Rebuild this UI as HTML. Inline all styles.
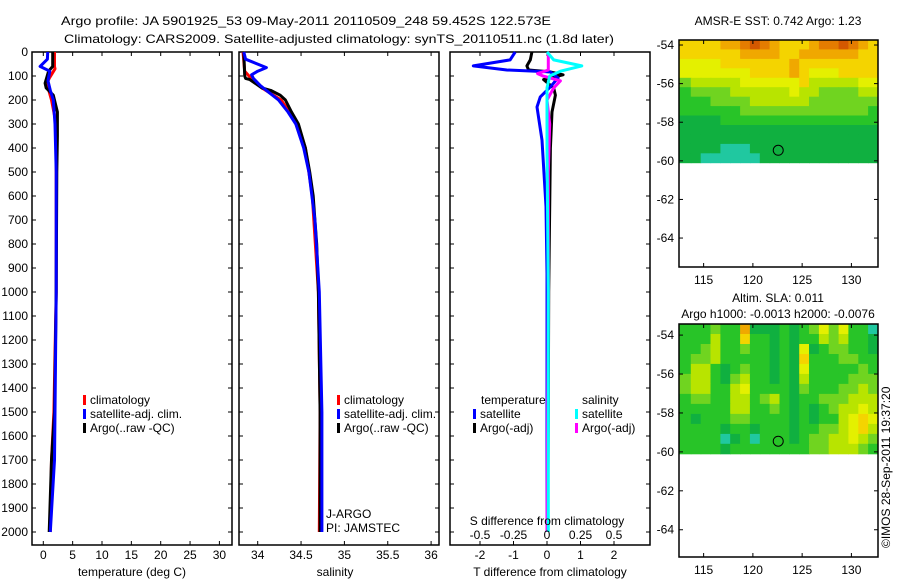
<!DOCTYPE html>
<html><head><meta charset="utf-8">
<style>
html,body{margin:0;padding:0;background:#fff;}
svg{display:block;font-family:"Liberation Sans",sans-serif;}
text{font-size:12px;fill:#000;}
</style></head>
<body>
<svg id="fig" width="900" height="580" viewBox="0 0 900 580" xmlns="http://www.w3.org/2000/svg">
<text x="61" y="25" textLength="490" lengthAdjust="spacingAndGlyphs">Argo profile: JA 5901925_53 09-May-2011 20110509_248 59.452S 122.573E</text>
<text x="64" y="43" textLength="550" lengthAdjust="spacingAndGlyphs">Climatology: CARS2009. Satellite-adjusted climatology: synTS_20110511.nc (1.8d later)</text>
<text x="778" y="25" text-anchor="middle">AMSR-E SST: 0.742 Argo: 1.23</text>
<text x="778" y="302" text-anchor="middle">Altim. SLA: 0.011</text>
<text x="778" y="318" text-anchor="middle">Argo h1000: -0.0013 h2000: -0.0076</text>
<text transform="translate(890,548) rotate(-90)">©IMOS 28-Sep-2011 19:37:20</text>
</svg>
<script>
// ---- data ----
const depthTicks=[0,100,200,300,400,500,600,700,800,900,1000,1100,1200,1300,1400,1500,1600,1700,1800,1900,2000];
const tempTicks=[0,5,10,15,20,25,30];
const salTicks=[34,34.5,35,35.5,36];
const tdiffTicks=[-2,-1,0,1,2];
const sdiffTicks=[-0.5,-0.25,0,0.25,0.5];
const tdiffTickLabels=["-2","-1","0","1","2"];
const sdiffTickLabels=["-0.5","-0.25","0","0.25","0.5"];

const tClimDepth=[0,60,70,110,130,200,300,500,1000,1500,1650,1700,2000];
const tClimVal=[1.9,1.9,2.0,1.0,0.6,1.4,2.2,2.2,2.2,1.8,1.5,1.4,1.2];
const tSatDepth=[0,30,60,80,120,160,200,300,500,800,1000,1500,1700,2000];
const tSatVal=[0.75,0.7,-0.55,1.1,0.8,1.2,1.7,2.0,2.2,2.2,2.2,2.0,1.9,1.2];
const tArgoDepth=[0,60,80,130,150,180,250,350,500,1000,1500,1700,2000];
const tArgoVal=[1.6,1.6,0.9,0.3,0.5,1.7,2.4,2.4,2.3,2.2,1.9,1.4,1.0];

const sClimDepth=[0,80,100,150,200,300,400,600,1000,1500,2000];
const sClimVal=[33.83,33.85,33.9,34.05,34.27,34.46,34.55,34.63,34.70,34.72,34.71];
const sSatDepth=[0,30,65,80,95,110,140,160,200,250,300,400,500,700,1000,1500,2000];
const sSatVal=[33.84,33.86,34.1,34.0,33.93,33.95,34.03,34.1,34.24,34.35,34.44,34.53,34.59,34.66,34.71,34.74,34.74];
const sArgoDepth=[0,100,110,115,150,160,180,200,250,300,400,500,600,700,800,1000,1500,2000];
const sArgoVal=[33.84,33.85,33.86,33.91,34.05,34.15,34.26,34.32,34.39,34.47,34.55,34.6,34.64,34.66,34.68,34.7,34.72,34.72];

const dTSatDepth=[0,33,58,75,83,108,145,187,229,367,645,922,1500,2000];
const dTSatVal=[-0.95,-1.1,-2.2,-1.2,0.1,0.33,0.1,-0.2,-0.3,-0.15,-0.03,0,0,0];
const dTArgoDepth=[0,33,58,75,83,95,115,150,180,250,400,1000,1500,2000];
const dTArgoVal=[-0.45,-0.5,-0.6,-0.55,0.1,0.48,-0.1,0.2,0.25,0.15,0.1,0.05,0.04,0.02];
const dSSatDepth=[0,33,58,80,100,150,200,400,1000,2000];
const dSSatVal=[0,0.05,0.26,0.1,0.02,0,0,0,0.01,0.01];
const dSArgoDepth=[0,60,75,90,100,120,150,200,300,500,1000,2000];
const dSArgoVal=[0.01,0.01,0.01,-0.07,-0.03,0.1,0.05,0,0.02,0.01,0.01,0];

const mapLonTicks=[115,120,125,130];
const mapLatTicks=[-54,-56,-58,-60,-62,-64];
const argoLon=122.573, argoLat=-59.452;
const sstRows=["66667789876667889876","66666677776677777766","55556666666766666666","55555556666765556666","34444455555564444455","23333444444544333344","22233334444443333333","22222233333333333332","11112222222222222222","11111111111111111111","11111111111111111111","11110001111111111111","11000000111111111111"];
const slaRows=["22232271112123535220","22242262212122434221","22342232212151233221","23342222212162223322","24421232212152222232","34421342212142222333","34422452222132223343","23322442342122333444","22222442232121234454","21222332222121224565","22221221222122334564","22220120222123344543","22221222222223344432"];
const palette=["#20c8a0","#10b040","#28c428","#70d420","#b8e400","#e4f000","#f4d400","#f0a800","#e47c00","#d45800"];

// ---- helpers ----
const NS="http://www.w3.org/2000/svg";
const svg=document.getElementById('fig');
function mk(tag,attrs,parent){const e=document.createElementNS(NS,tag);for(const k in attrs)e.setAttribute(k,attrs[k]);(parent||svg).appendChild(e);return e;}
const Y0=52,Y1=545;
const yD=d=>Y0+d*0.24;

function panel(name,x0,x1,xs,ticks,labels,showDepth){
  const g=mk('g',{});
  
  
  const r=mk('rect',{x:x0,y:Y0,width:x1-x0,height:Y1-Y0,fill:'none',stroke:'#000','stroke-width':1.5},g);
  
  
  ticks.forEach((t,i)=>{
    const x=xs(t);
    mk('line',{x1:x,x2:x,y1:Y0,y2:Y0+4,stroke:'#000'},g);
    mk('line',{x1:x,x2:x,y1:Y1,y2:Y1-4,stroke:'#000'},g);
    if(labels){const tx=mk('text',{x:x,y:Y1+14,'text-anchor':'middle'},g);tx.textContent=labels[i];
      
      }
  });
  depthTicks.forEach(d=>{
    const y=yD(d);
    mk('line',{x1:x0,x2:x0+4,y1:y,y2:y,stroke:'#000'},g);
    mk('line',{x1:x1,x2:x1-4,y1:y,y2:y,stroke:'#000'},g);
    if(showDepth){const tx=mk('text',{x:x0-4,y:y+4,'text-anchor':'end'},g);tx.textContent=d;
      
      }
  });
  return g;
}
function line(g,name,xs,vals,depths,color,w){
  const pts=vals.map((v,i)=>xs(v).toFixed(1)+','+yD(depths[i]).toFixed(1)).join(' ');
  const p=mk('polyline',{points:pts,fill:'none',stroke:color,'stroke-width':w||3,'stroke-linejoin':'round'},g);
  
  
}
function txt(g,name,x,y,s,anchor){const t=mk('text',{x:x,y:y,'text-anchor':anchor||'start'},g);t.textContent=s;
  
  return t;}
function legend(g,x,y,color,label,name){
  const m=mk('rect',{x:x,y:y-9,width:3,height:10,fill:color},g);
  
  
  txt(g,name,x+7,y,label);
}

// ---- panel 1: temperature ----
const xT=v=>43.3+v*5.87;
const g1=panel('temperature-panel',32,232,xT,tempTicks,tempTicks.map(String),true);
line(g1,'temp-climatology-line',xT,tClimVal,tClimDepth,'#f00');
line(g1,'temp-argo-line',xT,tArgoVal,tArgoDepth,'#000');
line(g1,'temp-satellite-line',xT,tSatVal,tSatDepth,'#00f');
legend(g1,83,404,'#f00','climatology','legend-climatology');
legend(g1,83,418,'#00f','satellite-adj. clim.','legend-satellite');
legend(g1,83,432,'#000','Argo(..raw -QC)','legend-argo');
txt(g1,'x-axis-title-temperature',132,576,'temperature (deg C)','middle');

// ---- panel 2: salinity ----
const xS=v=>257.7+(v-34)*86.7;
const g2=panel('salinity-panel',239,439,xS,salTicks,salTicks.map(String),false);
line(g2,'sal-climatology-line',xS,sClimVal,sClimDepth,'#f00');
line(g2,'sal-argo-line',xS,sArgoVal,sArgoDepth,'#000');
line(g2,'sal-satellite-line',xS,sSatVal,sSatDepth,'#00f');
legend(g2,337,404,'#f00','climatology','legend-climatology');
legend(g2,337,418,'#00f','satellite-adj. clim.','legend-satellite');
legend(g2,337,432,'#000','Argo(..raw -QC)','legend-argo');
txt(g2,'float-program-label',326,518,'J-ARGO');
txt(g2,'pi-label',326,532,'PI: JAMSTEC');
txt(g2,'x-axis-title-salinity',335,576,'salinity','middle');

// ---- panel 3: differences ----
const xdT=v=>547+v*33.5;
const xdS=v=>547+v*134;
const g3=panel('difference-panel',450,650,xdT,tdiffTicks,tdiffTickLabels,false);
line(g3,'tdiff-argo-line',xdT,dTArgoVal,dTArgoDepth,'#000');
line(g3,'tdiff-satellite-line',xdT,dTSatVal,dTSatDepth,'#00f');
line(g3,'sdiff-argo-line',xdS,dSArgoVal,dSArgoDepth,'#f0f');
line(g3,'sdiff-satellite-line',xdS,dSSatVal,dSSatDepth,'#0ff');
txt(g3,'legend-temperature-heading',481,404,'temperature');
legend(g3,473,418,'#00f','satellite','legend-t-satellite');
legend(g3,473,432,'#000','Argo(-adj)','legend-t-argo');
txt(g3,'legend-salinity-heading',582,404,'salinity');
legend(g3,575,418,'#0ff','satellite','legend-s-satellite');
legend(g3,575,432,'#f0f','Argo(-adj)','legend-s-argo');
txt(g3,'s-diff-axis-title',547,525,'S difference from climatology','middle');
sdiffTicks.forEach((t,i)=>{txt(g3,'s-diff-tick-label',xdS(t),539,sdiffTickLabels[i],'middle');});
txt(g3,'x-axis-title-t-diff',550,576,'T difference from climatology','middle');

// ---- maps ----
function map(name,top,bot,latTop,latBot,rows,dataBot){
  const x0=679,x1=878,lon0=112.5,lon1=132.7;
  const xL=l=>x0+(l-lon0)/(lon1-lon0)*(x1-x0);
  const yL=l=>top+(latTop-l)/(latTop-latBot)*(bot-top);
  const g=mk('g',{});
  
  
  const nr=rows.length, dLat=(latTop-dataBot)/nr;
  rows.forEach((row,ri)=>{
    for(let ci=0;ci<row.length;ci++){
      const la=latTop-ri*dLat, lo=lon0+0.2+ci;
      const xa=xL(lo), xb=ci==row.length-1?x1:xL(lo+1);
      const c=mk('rect',{x:(ci==0?x0:xa).toFixed(1),y:yL(la).toFixed(1),width:((ci==0?xb-x0:xb-xa)+0.5).toFixed(1),height:(yL(la-dLat)-yL(la)+0.5).toFixed(1),fill:palette[+row[ci]]},g);
      
      
    }
  });
  const fr=mk('rect',{x:x0,y:top,width:x1-x0,height:bot-top,fill:'none',stroke:'#000','stroke-width':1.5},g);
  
  
  mapLonTicks.forEach(t=>{const x=xL(t);
    mk('line',{x1:x,x2:x,y1:top,y2:top+4,stroke:'#000'},g);
    mk('line',{x1:x,x2:x,y1:bot,y2:bot-4,stroke:'#000'},g);
    txt(g,'lon-tick-label',x,bot+17,String(t),'middle');});
  mapLatTicks.forEach(t=>{const y=yL(t);
    mk('line',{x1:x0,x2:x0+4,y1:y,y2:y,stroke:'#000'},g);
    mk('line',{x1:x1,x2:x1-4,y1:y,y2:y,stroke:'#000'},g);
    txt(g,'lat-tick-label',x0-5,y+4,String(t),'end');});
  const c=mk('circle',{cx:xL(argoLon),cy:yL(argoLat),r:5,fill:'none',stroke:'#000','stroke-width':1},g);
  
  
}
map('sst-map',40,267,-53.74,-65.5,sstRows,-60.1);
map('sla-map',324,557,-53.43,-65.4,slaRows,-60.1);
</script>
</body></html>
